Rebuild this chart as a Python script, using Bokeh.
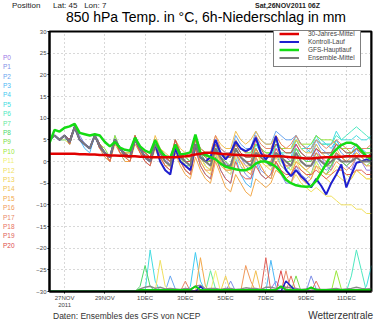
from bokeh.plotting import figure
from bokeh.models import Range1d, LinearAxis, FixedTicker, Legend, LegendItem, Div
from bokeh.layouts import column, row
from bokeh.embed import file_html
from bokeh.resources import INLINE

# time axis: hours after Sat 26NOV2011 06Z, 6-hourly
hours = [6 * i for i in range(65)]
tick_hours = [18, 66, 114, 162, 210, 258, 306, 354]
tick_labels = ["27NOV\n2011", "29NOV", "1DEC", "3DEC", "5DEC", "7DEC", "9DEC", "11DEC"]
member_names = ["P%d" % k for k in range(21)]

# 850 hPa temperature of the ensemble members (deg C)
t_p0 = [5,6,5,6, 5,8,5,4, 3,6,4,2, 1,5,3,2,  1,5,3,1, 0,5,2,1, -1,4,1,0, -1,4,2,0,
        -1,3,1,0, -2,3,1,-1, -2,2,1,0, -1,3,2,1,  0,4,2,1, 0,3,1,-1, -2,2,0,-1, -2,1,0,-2, -2]
t_p1 = [5,6,5,6, 4,8,6,4, 3,6,3,2, 0,5,3,1,  1,5,2,1, 0,4,2,0, -1,4,1,-1, -2,4,1,-1,
        -2,3,0,-2, -3,2,-1,-3, -4,1,-2,-3, -4,0,-3,-5,  -5,-1,-3,-4, -3,1,-1,-2, -1,2,0,-1, 0,3,1,0, 0]
t_p2 = [5,6,5,6, 5,8,5,4, 3,6,4,2, 1,6,3,2,  2,6,3,2, 1,5,3,1, 0,5,2,1, 0,6,3,2,
        1,5,3,2, 2,6,4,3, 3,7,5,4, 4,7,6,5,  5,6,4,3, 2,5,3,2, 1,4,2,1, 1,3,2,1, 2]
t_p3 = [5,6,5,5, 4,8,5,3, 2,6,3,1, 0,5,2,0,  0,5,2,0, -1,4,1,-1, -2,3,0,-2, -3,3,-1,-3,
        -4,2,-2,-4, -5,1,-3,-5, -6,0,-3,-4, -3,2,-1,-2,  -1,3,1,0, 1,4,2,2, 2,5,3,3, 3,4,3,2, 2]
t_p4 = [5,6,5,6, 5,8,5,4, 3,6,4,2, 1,5,3,2,  1,6,3,2, 1,5,2,1, 0,5,2,1, 0,5,3,2,
        1,5,2,1, 1,5,3,2, 2,6,3,2, 2,5,3,3,  3,6,4,3, 4,6,5,4, 3,5,3,2, 2,4,2,1, 1]
t_p5 = [5,6,5,6, 4,8,5,4, 3,6,3,2, 0,5,3,1,  1,5,3,1, 0,5,2,0, -1,4,1,0, -1,4,2,0,
        -1,4,1,-1, -1,3,1,0, 0,4,2,1, 1,4,2,1,  1,5,3,2, 3,6,4,4, 4,7,5,5, 5,6,5,5, 6]
t_p6 = [5,6,5,6, 5,8,5,4, 3,6,3,2, 1,5,3,1,  1,5,3,2, 0,4,2,1, 0,4,2,0, -1,4,1,0,
        0,4,2,1, 1,4,2,1, 1,3,1,0, 0,4,2,2,  2,5,3,3, 3,5,4,4, 4,6,5,6, 7,8,7,6, 5]
t_p7 = [5,6,5,5, 5,8,5,4, 3,6,4,2, 1,5,3,2,  1,5,3,2, 1,5,2,1, 0,4,2,1, 0,5,2,1,
        0,4,2,1, 1,4,2,1, 1,4,3,2, 2,4,3,2,  2,3,2,1, 1,3,2,2, 2,4,3,2, 2,3,2,2, 2]
t_p8 = [5,6,5,6, 4,8,5,4, 3,6,3,2, 0,5,3,1,  1,5,3,1, 0,4,1,0, -1,4,1,-1, -1,4,1,-1,
        -2,3,0,-1, -1,3,1,0, 0,3,1,0, -1,2,0,-1,  -2,1,-1,-2, -3,0,-2,-3, -1,2,1,1, 2,3,3,3, 3]
t_p9 = [5,6,5,6, 5,8,5,4, 3,6,4,2, 1,5,3,2,  1,5,2,1, 0,5,2,1, 0,4,1,0, -1,4,2,0,
        0,3,1,0, -1,3,1,0, 0,3,1,0, -1,2,1,0,  0,3,1,0, 0,2,0,-1, -1,1,0,-1, 0,1,0,-1, 0]
t_p10 = [5,6,5,6, 5,8,5,4, 3,6,4,3, 1,6,3,2,  2,6,3,2, 1,5,3,1, 0,5,2,1, 0,5,3,2,
         1,4,2,1, 1,4,3,2, 2,4,3,2, 2,5,3,3,  3,5,4,4, 4,6,5,5, 5,4,3,3, 2,3,2,2, 2]
t_p11 = [5,6,5,5, 4,8,5,4, 3,6,3,2, 0,5,2,1,  0,5,2,1, 0,4,1,0, -1,4,1,-1, -2,4,1,-1,
         -2,2,0,-2, -3,1,-1,-2, -2,2,0,-1, -1,2,0,-1,  -2,1,-1,-2, -3,0,-2,-3, -3,-1,-2,-3, -4,-2,-3,-4, -4]
t_p12 = [5,6,5,6, 5,8,5,4, 3,6,3,2, 1,5,3,1,  1,5,3,1, 0,4,2,0, -1,4,1,0, -1,4,1,-1,
         -2,3,0,-1, -2,2,0,-2, -3,1,-1,-3, -4,0,-2,-4,  -5,-3,-5,-6, -7,-6,-7,-8, -8,-9,-10,-10, -10,-11,-11,-12, -12]
t_p13 = [5,6,5,6, 4,8,5,4, 3,6,3,2, 0,5,2,1,  0,5,2,1, 0,4,1,-1, -1,3,0,-1, -2,3,0,-2,
         -3,2,-1,-2, -2,2,0,-1, -1,3,0,-1, -2,1,-1,-2,  -3,0,-2,-3, -4,-1,-3,-4, -5,-3,-4,-5, -4,-2,-3,-4, -4]
t_p14 = [5,6,5,6, 5,8,5,4, 3,6,4,2, 1,5,3,2,  2,6,3,2, 1,6,3,2, 1,5,3,2, 1,6,3,2,
         2,6,4,3, 3,7,5,4, 5,7,5,4, 4,6,4,3,  3,5,3,2, 2,4,2,1, 1,3,1,0, 0,2,1,0, 0]
t_p15 = [5,6,5,6, 4,8,5,4, 3,6,3,1, 0,4,2,0,  0,4,2,0, -1,3,0,-2, -3,2,-1,-3, -4,1,-2,-4,
         -5,0,-3,-6, -7,-3,-5,-7, -8,-4,-5,-6, -5,-2,-3,-4,  -3,0,-1,-2, -1,1,0,-1, 0,2,1,0, 1,2,1,0, 0]
t_p16 = [5,6,5,6, 5,8,5,4, 3,6,3,2, 0,5,2,1,  1,5,2,1, 0,4,1,-1, -2,3,0,-2, -3,3,0,-2,
         -2,3,0,-2, -2,2,0,-2, -3,1,-1,-3, -4,0,-2,-4,  -5,-2,-4,-5, -4,-1,-2,-3, -2,0,-1,-2, -1,1,0,-1, -1]
t_p17 = [5,6,5,6, 5,8,5,4, 3,6,4,2, 1,5,3,2,  1,5,3,2, 1,5,2,1, 0,5,2,1, 1,5,3,2,
         2,6,3,2, 2,5,3,2, 3,6,4,3, 3,6,4,3,  4,6,4,3, 3,5,4,3, 4,5,4,3, 3,4,3,3, 4]
t_p18 = [5,6,5,6, 5,8,5,4, 3,6,3,2, 1,5,3,1,  1,5,3,1, 0,4,2,0, -1,4,1,0, -1,4,1,0,
         -1,3,1,-1, -1,3,1,0, 0,3,1,0, 0,3,1,-1,  -1,2,0,-1, -1,2,1,0, 0,2,1,0, 0,1,0,0, 0]
t_p19 = [5,6,5,6, 4,8,5,4, 3,6,3,2, 0,5,2,1,  0,5,2,0, -1,4,1,-1, -2,3,0,-2, -3,3,-1,-3,
         -4,1,-2,-4, -5,0,-3,-4, -4,-1,-3,-4, -3,0,-2,-3,  -3,-1,-2,-3, -3,-2,-3,-4, -3,-2,-2,-3, -3,-2,-2,-3, -3]
t_p20 = [5,6,5,6, 5,8,5,4, 3,6,4,2, 1,5,3,2,  1,6,3,2, 1,5,2,1, 0,5,2,0, 0,5,2,1,
         0,4,2,1, 1,4,2,1, 1,5,3,1, 2,4,3,2,  2,4,2,1, 1,3,2,2, 2,4,3,2, 2,3,2,1, 2]

t_mean = [5,6,5,6, 4.5,8,5,4, 3,6,3.5,2, 1,5,3,1.5,  1,5,3,1, 0,4,2,0, -1,4,1,0, -1,4,1,0,
          -1,3,1,-1, -1,3,1,0, -1,2,1,0, -1,2,1,0,  -1,2,0,-1, -1,1,0,-1, 0,1,0,0, 0,1,0,0, 0]
t_control = [5,6,5,6, 4.5,8,5,4, 3,6,3.5,2, 1,5,3,1.5,  1,5,3,1, 0,4,0,-2, -3,3,0,-1, -2,4,1,0,
             1,5,2,0.5, 2,4.6,3,2.4, 3,5.5,2,0.5, 2,5.8,1,-2,
             -3.4,-2,-3.4,-4.5, -6,-4,-5.6,-7.6, -5,-3,-0.7,-6, -3,-0.3,0,0.5, 0]
t_gfs = [4.3,7.3,6.9,7.8, 8.1,8.7,6.6,6.3, 6.0,6.3,6.0,4.5, 3.5,4.5,3.2,2.7,
         2.5,5.5,3.5,2.5, 2.0,4.9,2.5,1.2, 0.9,3.9,1.6,1.8, 2.1,6.2,2.0,1.5,
         1.0,0.5,-0.5,-1.2, -1.5,-1.8,-2.0,-2.0, -1.5,-0.5,0.0,0.0, -0.5,-1.2,-2.5,-4.2,
         -5.0,-5.5,-5.7,-5.8, -5.7,-4.5,-2.5,-0.5, 1.5,2.8,3.8,4.3, 4.3,3.8,2.5,1.2, 0.5]
t_clim = [1.8,1.8,1.8,1.8, 1.8,1.8,1.7,1.7, 1.6,1.6,1.5,1.5, 1.4,1.4,1.3,1.3,
          1.2,1.2,1.1,1.1, 1.0,1.0,1.0,1.0, 1.0,1.0,1.1,1.2, 1.4,1.6,1.8,2.0,
          2.0,1.9,1.8,1.7, 1.6,1.5,1.5,1.4, 1.4,1.3,1.3,1.3, 1.2,1.2,1.2,1.1,
          1.0,0.9,0.8,0.7, 0.7,0.8,0.9,1.0, 1.0,1.1,1.1,1.2, 1.2,1.2,1.2,1.2, 1.2]

# 6h precipitation (mm, right axis)
pr_p0 = [0,0,0,0, 0,0,0,0, 0,0,0,0, 0,0,0,0,  0,0,0,0, 0,0,0,0, 0,0,0,0, 0,0,0,0,
         0,0,0,0, 0,0,0,0, 0,0,0,0, 0.5,2,0.5,0,  0,0,0,0, 0,0,0,0, 0,0,0,0, 0,0,0,0, 0]
pr_p1 = [0,0,0,0, 0,0,0,0, 0,0,0,0, 0,0,0,0,  0,0,0,0, 0,0,0,0, 0,0,0,0, 0,0,0,0,
         0,0,0,0, 2,0,0,0, 0,0,0,0, 0,0,0,0,  0,0,0,0, 3,0.5,0,0, 0,0,0,0, 0,0,0,0, 0]
pr_p2 = [0,0,0,0, 0,0,0,0, 0,0,0,0, 0,0,0,0,  0,0,0,0, 0,0,0,0, 3,0.5,0,0, 0,0,0,0,
         0,0,0,0, 0,0,0,0, 0,0,0,0, 0,0,0,0,  0,0,0,0, 0,0,0,0, 0,0,0,0, 0,0,0,0, 0]
pr_p3 = [0,0,0,0, 0,0,0,0, 0,0,0,0, 0,0,0,0,  0,0,0,0, 0,0,0,0, 0,0,0,0, 0,0,0,0,
         0,0,0,0, 0,0,0,0, 0,0,0,0, 6,1,0,0,  0,0,0,0, 0,0,0,0, 0,0,0,0, 0,0,0,0, 0]
pr_p4 = [0,0,0,0, 0,0,0,0, 0,0,0,0, 0,0,0,0,  0,0,0,0, 0,0,0,0, 0,0,0,0, 1,7.5,2,0,
         0,0,0,0, 0,0,0,0, 0,0,0,0, 0,0,0,0,  0,0,0,0, 0,0,0,0, 0,0,0,0, 0,0,0,0, 0]
pr_p5 = [0,0,0,0, 0,0,0,0, 0,0,0,0, 0,0,0,0,  0,0,0,0, 8,2,0,0, 0,0,0,0, 0,0,0,0,
         0,0,0,0, 0,0,0,0, 0,0,0,0, 0,0,0,0,  0,0,0,0, 0,0,0,0, 0,0,0,0, 0,0,0,1, 5]
pr_p6 = [0,0,0,0, 0,0,0,0, 0,0,0,0, 0,0,0,0,  0,0,0,0, 0,0,0,0, 0,0,0,0, 0,0,0,0,
         0,0,0,0, 0,0,0,0, 0,0,0,0, 0,0,0,0,  0,0,0,0, 0,0,0,0, 0,0,0,0, 3,8,4,0, 0]
pr_p7 = [0,0,0,0, 0,0,0,0, 0,0,0,0, 0,0,0,0,  0,0,0,0, 0,0,0,0, 0,0,0,0, 0,0,0,0,
         4,0.5,0,0, 0,0,0,0, 0,0,0,0, 0,0,0,0,  0,0,0,0, 0,0,0,0, 0,0,0,0, 0,0,0,0, 0]
pr_p8 = [0,0,0,0, 0,0,0,0, 0,0,0,0, 0,0,0,0,  0,0,1,5, 1,0,0,0, 0,0,0,0, 0,0,0,0,
         0,0,0,0, 0,0,0,0, 0,0,0,0, 0,0,0,0,  0,0,0,0, 0,0,0,0, 0,0,0,0, 0,0,0,0, 0]
pr_p9 = [0,0,0,0, 0,0,0,0, 0,0,0,0, 0,0,0,0,  0,0,0,0, 0,0,0,0, 0,0,0,0, 0,0,0,0,
         0,0,0,0, 0,0,0,0, 0,0,0,0, 0,0,0,0,  0,3,0,0, 0,0,0,0, 0,0,0,0, 0,0,0,0, 0]
pr_p10 = [0,0,0,0, 0,0,0,0, 0,0,0,0, 0,0,0,0,  0,0,0,0, 0,0,0,0, 0,0,0,0, 0,0,0,0,
          0,0,0,0, 0,0,0,0, 0,0,0,0, 0,0,0,0,  0,0,0,0, 0,0,0,0, 0,4,0.5,0, 0,0,0,0, 0]
pr_p11 = [0,0,0,0, 0,0,0,0, 0,0,0,0, 0,0,0,0,  0,0,0,0, 0,0,0,0, 0,0,0,0, 0,0,0,0,
          0,4,0,0, 0,0,0,0, 0,0,0,0, 0,0,0,0,  0,0,0,0, 0,0,0,0, 0,0,0,0, 0,0,0,0, 0]
pr_p12 = [0,0,0,0, 0,0,0,0, 0,0,0,0, 0,0,0,0,  0,0,0,0, 0,0,6,1, 0,0,0,0, 0,0,0,0,
          0,0,0,0, 0,0,0,0, 0,0,0,0, 0,0,0,0,  0,0,0,0, 0,0,0,0, 0,0,0,0, 0,0,0,0, 0]
pr_p13 = [0,0,0,0, 0,0,0,0, 0,0,0,0, 0,0,0,0,  0,0,0,0, 0,0,0,0, 0,0,0,0, 0,0,0,0,
          0,0,0,3, 0,0,0,0, 0,0,0,0, 0,0,0,0,  0,0,0,0, 0,0,0,0, 0,0,0,0, 0,0,0,0, 0]
pr_p14 = [0,0,0,0, 0,0,0,0, 0,0,0,0, 0,0,0,0,  0,0,0,0, 0,0,0,0, 0,0,0,0, 0,0,0,0,
          0,0,0,0, 0,0,0,0, 0,4,0,0, 0,0,0,0,  0,0,0,0, 0,0,0,0, 0,0,0,0, 0,0,0,0, 0]
pr_p15 = [0,0,0,0, 0,0,0,0, 0,0,0,0, 0,0,0,0,  0,0,0,0, 0,0,0,0, 0,0,0,0, 0,0,6.5,1,
          0,0,0,0, 0,0,0,0, 0,0,0,0, 0,0,0,0,  0,0,0,0, 0,0,0,0, 0,0,0,0, 0,0,0,0, 0]
pr_p16 = [0,0,0,0, 0,0,0,0, 0,0,0,0, 0,0,0,0,  0,0,0,0, 0,0,0,0, 0,0,0,0, 0,0,0,0,
          0,0,0,0, 0,0,0,5, 2,0,0,0, 0,0,0,0,  0,0,0,0, 0,0,0,0, 0,0,0,0, 0,0,0,0, 0]
pr_p17 = [0,0,0,0, 0,0,0,0, 0,0,0,0, 0,0,0,0,  0,0,0,0, 0,0,0,0, 0,0,0,2, 0,0,0,0,
          0,0,0,0, 0,0,0,0, 0,0,0,0, 0,0,0,4,  0,0,0,0, 0,0,0,0, 0,0,0,0, 0,0,0,0, 0]
pr_p18 = [0,0,0,0, 0,0,0,0, 0,0,0,0, 0,0,0,0,  0,0,0,0, 0,0,0,0, 0,0,0,0, 0,0,0,0,
          0,0,0,0, 0,0,0,0, 0,0,0,0, 0,0,0,0,  3,0,0,0, 0,2,0,0, 0,0,0,0, 0,0,0,0, 0]
pr_p19 = [0,0,0,0, 0,0,0,0, 0,0,0,0, 0,0,0,0,  0,0,0,0, 0,0,0,0, 0,0,0,0, 0,0,0,0,
          0,0,0,0, 0,0,0,0, 0,0,0,6.5, 0,0,0,0,  0,0,0,0, 0,0,0,0, 0,0,0,0, 0,0,0,0, 0]
pr_p20 = [0,0,0,0, 0,0,0,0, 0,0,0,0, 0,0,0,0,  0,0,0,0, 0,0,0,0, 0,0,0,0, 0,0,0,0,
          0,0,0,0, 0,0,0,0, 0,0,0,0, 0,0,4,0,  0,0,0,0, 0,0,0,0, 0,0,0,0, 0,0,0,0, 0]
pr_control = [0,0,0,0, 0,0,0,0, 0,0,0,0, 0,0,0,0,  0,0,0,0, 0,0,0,0, 0,0,0,0, 0,0,1,0,
              0,0,0,0, 0,0,0,0, 0,0,0,0, 0,0,0,2,  1,0,0,0, 0,0,0,0, 0,0,0,0, 0,0,0,0, 0]
pr_gfs = [0,0,0,0, 0,0,0,0, 0,0,0,0, 0,0,0,0,
          0,0,0.3,0.3, 0.3,0.3,0.3,0.3, 0.3,0.3,0.3,0.3, 0.3,1,0.3,0.3,
          0.3,0.3,0.3,0.3, 0.3,0.3,0.3,0.3, 0.3,0.3,0.3,0.3, 0.3,0.3,1,0.3,
          0.3,0.3,0.3,0.3, 0.8,0.3,0.3,0.3, 0.3,0.3,0.3,0.3, 0.3,0.3,0.3,0.3, 0.3]
pr_mean = [0,0,0,0, 0,0,0,0, 0,0,0,0, 0,0,0,0,
           0,0,0.5,0.8, 1,0.6,0.8,0.5, 0.6,0.5,0.4,0.6, 0.5,1,1.2,0.5,
           0.6,0.6,0.4,0.6, 0.6,0.4,0.5,0.7, 0.6,0.6,0.4,0.8, 0.8,0.6,0.7,0.8,
           0.7,0.6,0.4,0.5, 0.6,0.5,0.4,0.4, 0.5,0.6,0.4,0.5, 0.6,0.8,0.6,0.5, 0.6]

member_temps = [t_p0, t_p1, t_p2, t_p3, t_p4, t_p5, t_p6, t_p7, t_p8, t_p9, t_p10,
                t_p11, t_p12, t_p13, t_p14, t_p15, t_p16, t_p17, t_p18, t_p19, t_p20]
member_precs = [pr_p0, pr_p1, pr_p2, pr_p3, pr_p4, pr_p5, pr_p6, pr_p7, pr_p8, pr_p9, pr_p10,
                pr_p11, pr_p12, pr_p13, pr_p14, pr_p15, pr_p16, pr_p17, pr_p18, pr_p19, pr_p20]
member_colors = ["#9a78e6", "#7f8fe6", "#6aa6f0", "#4cb8f5", "#3fcaf0", "#43dce0", "#4ee8c0",
                 "#62e89a", "#4cd86a", "#78dc4a", "#9ae83a", "#f0f070", "#f0e060", "#f2d050",
                 "#f2bf50", "#f2a84a", "#f0985a", "#e88868", "#e87060", "#e06058", "#dd4a4a"]

FONT = "Liberation Sans"
TOP_H = 29      # height of the text strip above the plot
LEFT_W = 15     # width of the member-name strip
P_H = 281       # plot height

p = figure(width=380 - LEFT_W, height=P_H, x_range=Range1d(0, 384), y_range=Range1d(-30, 30),
           output_backend="svg", toolbar_location=None, margin=0,
           min_border_left=49 - LEFT_W, min_border_right=9, min_border_top=2, min_border_bottom=17)
p.extra_y_ranges = {"pr": Range1d(0, 50)}
p.background_fill_color = "white"
p.border_fill_color = "white"
p.outline_line_color = "black"
p.outline_line_width = 2

# right precipitation axis, pinned to the right edge of the time range
rax = LinearAxis(y_range_name="pr", ticker=FixedTicker(ticks=list(range(0, 51, 5))),
                 fixed_location=384)
p.add_layout(rax, "right")

for ax in [p.yaxis[0], rax]:
    ax.axis_line_width = 2
    ax.axis_line_color = "black"
    ax.major_tick_out = 2
    ax.major_tick_in = 0
    ax.minor_tick_out = 0
    ax.minor_tick_line_color = None
    ax.major_label_text_font = FONT
    ax.major_label_text_font_size = "6px"
    ax.major_label_standoff = 1
p.yaxis[0].ticker = FixedTicker(ticks=list(range(-30, 31, 5)))

xa = p.xaxis[0]
xa.ticker = FixedTicker(ticks=tick_hours)
xa.major_label_overrides = {h: lab for h, lab in zip(tick_hours, tick_labels)}
xa.axis_line_width = 2
xa.major_tick_out = 2
xa.major_tick_in = 0
xa.minor_tick_out = 0
xa.minor_tick_line_color = None
xa.major_label_text_font = FONT
xa.major_label_text_font_size = "6px"
xa.major_label_standoff = 1

p.xgrid.ticker = FixedTicker(ticks=tick_hours)
p.ygrid.ticker = FixedTicker(ticks=list(range(-25, 30, 5)))
for g in [p.xgrid[0], p.ygrid[0]]:
    g.grid_line_color = "#b0b0b0"
    g.grid_line_dash = "1 3"
    g.grid_line_width = 1

# precipitation (right axis)
for pr, col in zip(member_precs, member_colors):
    p.line(hours[:len(pr)], pr, y_range_name="pr", line_color=col, line_width=1)
p.line(hours, pr_mean, y_range_name="pr", line_color="#8a8a8a", line_width=1.5)
p.line(hours, pr_control, y_range_name="pr", line_color="#2020c8", line_width=1.5)
p.line(hours, pr_gfs, y_range_name="pr", line_color="#10d010", line_width=2)

# temperature: members, control, mean, main run, climate
for tt, col in zip(member_temps, member_colors):
    p.line(hours[:len(tt)], tt, line_color=col, line_width=1)
r_ctrl = p.line(hours, t_control, line_color="#1f1fd0", line_width=2)
r_mean = p.line(hours, t_mean, line_color="#7a7a7a", line_width=2)
r_gfs = p.line(hours, t_gfs, line_color="#14dc14", line_width=2.5)
r_clim = p.line(hours, t_clim, line_color="#e00000", line_width=2.5)

legend = Legend(items=[LegendItem(label="30-Jahres-Mittel", renderers=[r_clim]),
                       LegendItem(label="Kontroll-Lauf", renderers=[r_ctrl]),
                       LegendItem(label="GFS-Hauptlauf", renderers=[r_gfs]),
                       LegendItem(label="Ensemble-Mittel", renderers=[r_mean])],
                location=(224, 224), orientation="vertical")
legend.label_text_font = FONT
legend.label_text_font_size = "6.5px"
legend.label_height = 7
legend.glyph_height = 7
legend.glyph_width = 20
legend.label_standoff = 9
legend.spacing = 1
legend.padding = 5
legend.margin = 0
legend.border_line_color = "black"
legend.border_line_width = 1
legend.background_fill_color = "white"
legend.background_fill_alpha = 1
p.add_layout(legend)

SPAN = "position:absolute;white-space:nowrap;line-height:1;font-family:'Liberation Sans',sans-serif;"

top_html = (
    '<div style="position:relative;width:380px;height:%dpx;">' % TOP_H
    + '<span style="%sleft:12px;top:1.5px;font-size:8px;color:#222;">Position</span>' % SPAN
    + '<span style="%sleft:53px;top:1.5px;font-size:8px;color:#222;">Lat: 45&nbsp;&nbsp;&nbsp;Lon: 7</span>' % SPAN
    + '<span style="%sleft:255px;top:2px;font-size:7px;font-weight:bold;color:#222;">Sat,26NOV2011 06Z</span>' % SPAN
    + '<span style="%sleft:66px;top:10px;font-size:14px;color:#000;">850 hPa Temp. in °C, 6h-Niederschlag in mm</span>' % SPAN
    + '</div>')
top_div = Div(text=top_html, width=380, height=TOP_H, margin=0)

left_html = '<div style="position:relative;width:%dpx;height:%dpx;">' % (LEFT_W, P_H)
for k, (nm, col) in enumerate(zip(member_names, member_colors)):
    top = 58 + 9.4 * k - TOP_H - 3.25
    left_html += '<span style="%sleft:3px;top:%.1fpx;font-size:6.5px;color:%s;">%s</span>' % (SPAN, top, col, nm)
left_html += '</div>'
left_div = Div(text=left_html, width=LEFT_W, height=P_H, margin=0)

BOT_H = 323 - TOP_H - P_H
bot_html = (
    '<div style="position:relative;width:380px;height:%dpx;">' % BOT_H
    + '<span style="%sleft:53px;top:1.8px;font-size:8.5px;color:#333;">Daten: Ensembles des GFS von NCEP</span>' % SPAN
    + '<span style="%sright:7px;top:1px;font-size:10px;color:#333;">Wetterzentrale</span>' % SPAN
    + '</div>')
bot_div = Div(text=bot_html, width=380, height=BOT_H, margin=0)

layout = column(top_div, row(left_div, p, spacing=0, margin=0), bot_div, spacing=0, margin=0)

open("out.html", "w").write(file_html(layout, INLINE))
